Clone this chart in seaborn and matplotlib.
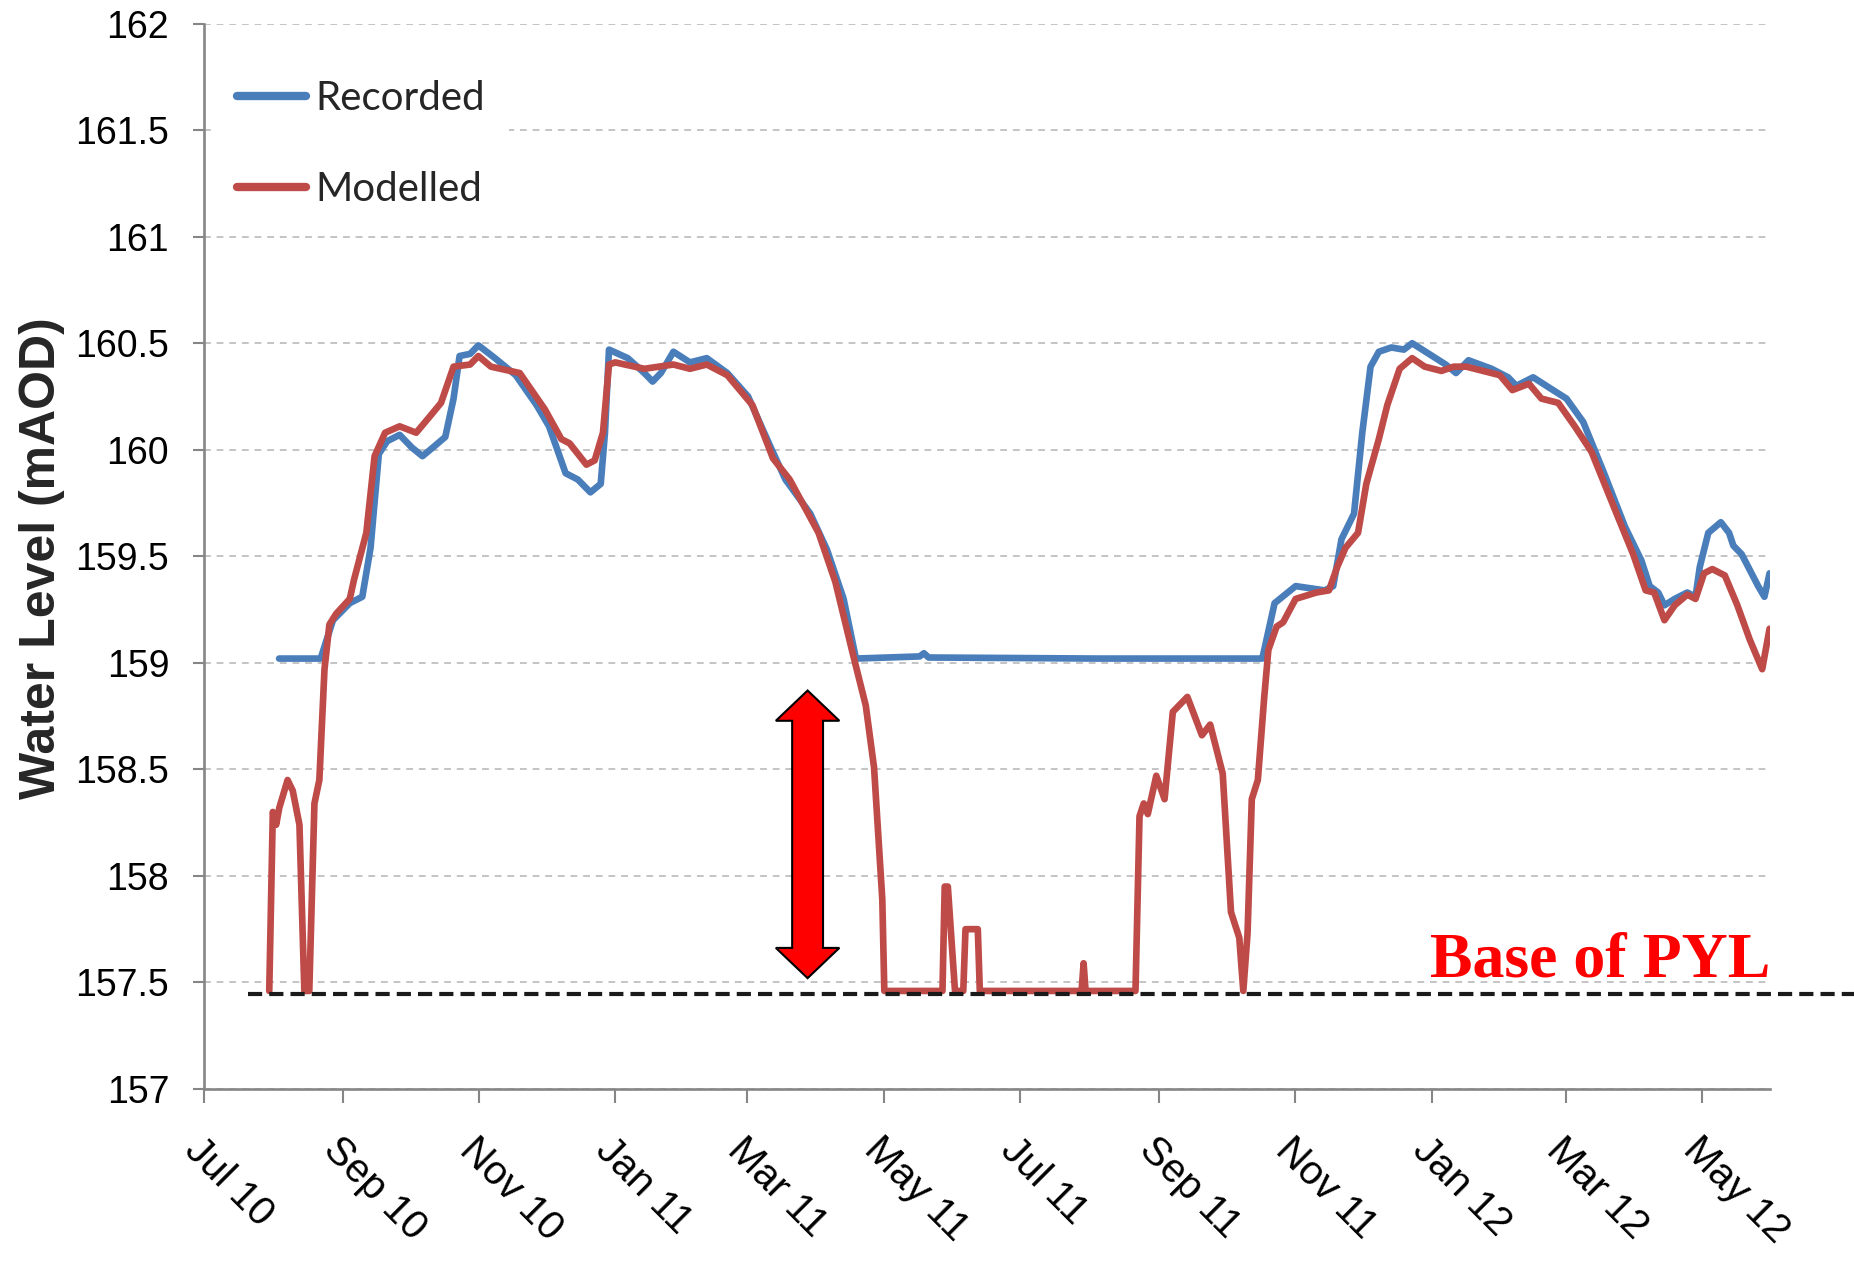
import numpy as np
import pandas as pd
import seaborn as sns
import matplotlib
matplotlib.use("Agg")
import matplotlib.pyplot as plt
import matplotlib.dates as mdates
import matplotlib.transforms as mtransforms
from matplotlib.patches import Polygon
from matplotlib.ticker import FuncFormatter

START = pd.Timestamp("2010-07-01")

# days after 1 Jul 2010, water level (mAOD)
recorded_day = [33.6, 52.2, 54.0, 57.7, 65.2, 70.8, 74.5, 78.2, 81.9, 87.5, 93.0, 97.7,
                102.3, 107.9, 111.6, 114.3, 119.0, 122.7, 130.1, 139.4, 148.7, 154.3,
                161.7, 167.2, 172.8, 177.4, 179.3, 181.1, 189.5, 196.9, 200.6, 204.3,
                209.9, 217.3, 224.8, 234.0, 243.3, 252.6, 260.0, 271.1, 278.6, 286.0,
                291.5, 320.0, 321.9, 324.0, 400.0, 473.2, 478.7, 488.1, 501.1, 504.9,
                508.6, 514.2, 517.9, 521.6, 525.3, 530.9, 536.5, 540.2, 547.7, 555.2,
                559.8, 565.4, 575.7, 583.1, 586.8, 594.3, 601.7, 609.2, 616.7, 626.0,
                635.3, 642.7, 646.4, 650.2, 653.0, 657.6, 663.2, 666.9, 668.8, 672.6,
                678.2, 681.9, 683.8, 687.5, 694.9, 697.7, 700.0]
recorded_level = [159.02, 159.02, 159.08, 159.20, 159.28, 159.31, 159.54, 159.98, 160.04,
                  160.07, 160.01, 159.97, 160.01, 160.06, 160.24, 160.44, 160.45, 160.49,
                  160.43, 160.35, 160.21, 160.11, 159.89, 159.86, 159.80, 159.84, 160.08,
                  160.47, 160.43, 160.36, 160.32, 160.36, 160.46, 160.41, 160.43, 160.36,
                  160.25, 160.03, 159.86, 159.70, 159.53, 159.30, 159.02, 159.03, 159.045,
                  159.025, 159.02, 159.02, 159.28, 159.36, 159.34, 159.36, 159.58, 159.70,
                  160.08, 160.39, 160.46, 160.48, 160.47, 160.50, 160.45, 160.40, 160.36,
                  160.42, 160.38, 160.34, 160.30, 160.34, 160.29, 160.24, 160.13, 159.89,
                  159.64, 159.48, 159.36, 159.33, 159.27, 159.30, 159.33, 159.31, 159.45,
                  159.61, 159.66, 159.61, 159.55, 159.51, 159.36, 159.31, 159.42]

modelled_day = [29.2, 30.8, 32.3, 33.7, 37.4, 39.7, 42.7, 44.9, 47.1, 49.4, 51.6, 53.9,
                56.1, 59.1, 65.2, 67.1, 72.6, 76.3, 81.0, 87.5, 94.9, 100.5, 106.0,
                111.6, 119.0, 122.7, 128.3, 141.2, 152.4, 159.8, 163.5, 171.0, 174.7,
                178.4, 181.1, 183.9, 196.9, 209.9, 217.3, 224.8, 234.0, 245.2, 254.4,
                261.9, 274.8, 282.3, 289.7, 295.9, 299.6, 303.3, 304.2, 330.2, 331.2,
                332.6, 335.8, 339.5, 340.5, 346.0, 346.9, 392.4, 393.3, 394.2, 416.5,
                418.3, 420.2, 422.0, 425.8, 429.5, 433.2, 439.7, 446.2, 449.9, 455.5,
                459.2, 462.9, 464.7, 466.6, 468.5, 471.2, 474.0, 475.9, 479.6, 482.5,
                488.1, 497.4, 503.0, 506.7, 510.4, 516.0, 519.7, 525.3, 529.1, 534.6,
                540.2, 545.8, 553.3, 558.8, 564.4, 571.9, 579.4, 585.0, 592.4, 598.0,
                605.5, 612.9, 620.4, 631.6, 639.0, 644.6, 648.4, 653.0, 657.6, 663.2,
                666.9, 670.7, 674.4, 680.0, 685.6, 691.1, 696.7, 700.0]
modelled_level = [157.46, 158.30, 158.24, 158.32, 158.45, 158.40, 158.24, 157.46, 157.46,
                  158.34, 158.45, 158.97, 159.18, 159.23, 159.30, 159.39, 159.61, 159.97,
                  160.08, 160.11, 160.08, 160.15, 160.22, 160.39, 160.40, 160.44, 160.39,
                  160.36, 160.19, 160.05, 160.03, 159.93, 159.95, 160.08, 160.40, 160.41,
                  160.38, 160.40, 160.38, 160.40, 160.35, 160.21, 159.96, 159.86, 159.61,
                  159.38, 159.06, 158.80, 158.51, 157.89, 157.46, 157.46, 157.95, 157.95,
                  157.46, 157.46, 157.75, 157.75, 157.46, 157.46, 157.59, 157.46, 157.46,
                  158.28, 158.34, 158.29, 158.47, 158.36, 158.77, 158.84, 158.66, 158.71,
                  158.48, 157.83, 157.71, 157.46, 157.73, 158.36, 158.45, 158.83, 159.06,
                  159.17, 159.19, 159.30, 159.33, 159.34, 159.45, 159.54, 159.61, 159.84,
                  160.05, 160.21, 160.38, 160.43, 160.39, 160.37, 160.39, 160.39, 160.37,
                  160.35, 160.28, 160.31, 160.24, 160.22, 160.11, 159.99, 159.70, 159.51,
                  159.34, 159.33, 159.20, 159.27, 159.32, 159.30, 159.42, 159.44, 159.41,
                  159.27, 159.11, 158.97, 159.16]

pyl_base = 157.445
x_end_day = 700.2
month_ticks = pd.date_range("2010-07-01", "2012-05-01", freq="2MS")
y_ticks = np.arange(157, 162.01, 0.5)

# double arrow marking the drawdown below recorded level
arrow_day = 269.9
arrow_low, arrow_high = 157.52, 158.87

BLUE = "#4a7ebb"
RED = "#be4b48"
AXIS_GREY = "#868686"

sns.set_theme(style="white")
plt.rcParams["font.family"] = ["Liberation Sans", "DejaVu Sans"]

fig = plt.figure(figsize=(18.54, 12.63), dpi=100)
ax = fig.add_axes([0.110, 0.1378, 0.8447, 0.8435])

rec = pd.DataFrame({"date": START + pd.to_timedelta(recorded_day, unit="D"),
                    "level": recorded_level})
mod = pd.DataFrame({"date": START + pd.to_timedelta(modelled_day, unit="D"),
                    "level": modelled_level})

sns.lineplot(data=rec, x="date", y="level", ax=ax, color=BLUE, linewidth=4.8,
             label="Recorded", estimator=None, zorder=3)
sns.lineplot(data=mod, x="date", y="level", ax=ax, color=RED, linewidth=4.8,
             label="Modelled", estimator=None, zorder=4)

ax.set_xlim(START, START + pd.Timedelta(days=x_end_day))
ax.set_ylim(157, 162)
ax.set_yticks(y_ticks)
ax.yaxis.set_major_formatter(FuncFormatter(lambda v, p: f"{v:g}"))
ax.set_xticks(month_ticks)
ax.xaxis.set_major_formatter(mdates.DateFormatter("%b %y"))

ax.grid(axis="y", color="#c4c4c4", lw=1.4, ls=(0, (3.5, 3)))
ax.grid(axis="x", visible=False)
ax.set_axisbelow(True)

sns.despine(ax=ax)
for side in ["left", "bottom"]:
    ax.spines[side].set_color(AXIS_GREY)
    ax.spines[side].set_linewidth(1.9)

ax.tick_params(axis="x", bottom=True, length=10, width=1.5, color=AXIS_GREY,
               labelsize=29, pad=20, labelcolor="black")
ax.tick_params(axis="y", left=True, length=8, width=1.5, color=AXIS_GREY,
               labelsize=27, pad=17, labelcolor="black")
plt.setp(ax.get_xticklabels(), rotation=-45, ha="left", va="top",
         rotation_mode="anchor")

ax.set_xlabel("")
ax.set_ylabel("Water Level (mAOD)", fontsize=36, fontweight="bold")
ax.yaxis.set_label_coords(-0.0885, 0.498)

# base of PYL line running past the plot edge
ax.axhline(pyl_base, xmin=0.028, xmax=1.054, color="#1a1a1a", lw=3,
           ls=(0, (3.4, 1.7)), clip_on=False, zorder=5)
trans = mtransforms.blended_transform_factory(ax.transAxes, ax.transData)
ax.text(1.0, 157.53, "Base of PYL", transform=trans, ha="right", va="baseline",
        color="#ff0000", fontsize=46, fontweight="bold",
        family=["Liberation Serif", "DejaVu Serif"])

xc = mdates.date2num(START + pd.Timedelta(days=arrow_day))
hw_shaft, hw_head, head_len = 6.9, 14.2, 0.142
verts = [
    (xc, arrow_high),
    (xc + hw_head, arrow_high - head_len),
    (xc + hw_shaft, arrow_high - head_len),
    (xc + hw_shaft, arrow_low + head_len),
    (xc + hw_head, arrow_low + head_len),
    (xc, arrow_low),
    (xc - hw_head, arrow_low + head_len),
    (xc - hw_shaft, arrow_low + head_len),
    (xc - hw_shaft, arrow_high - head_len),
    (xc - hw_head, arrow_high - head_len),
]
ax.add_patch(Polygon(verts, closed=True, facecolor="#ff0000", edgecolor="black",
                     lw=1.5, zorder=6))

leg = ax.legend(loc="center left", bbox_to_anchor=(0.0057, 0.8868),
                borderaxespad=0, borderpad=0.6, handlelength=1.7,
                handletextpad=0.25, labelspacing=1.35, frameon=True,
                facecolor="white", edgecolor="none", framealpha=1,
                prop={"family": "Lato", "size": 29})
for line in leg.get_lines():
    line.set_linewidth(6)

fig.savefig("out.png", dpi=100)
